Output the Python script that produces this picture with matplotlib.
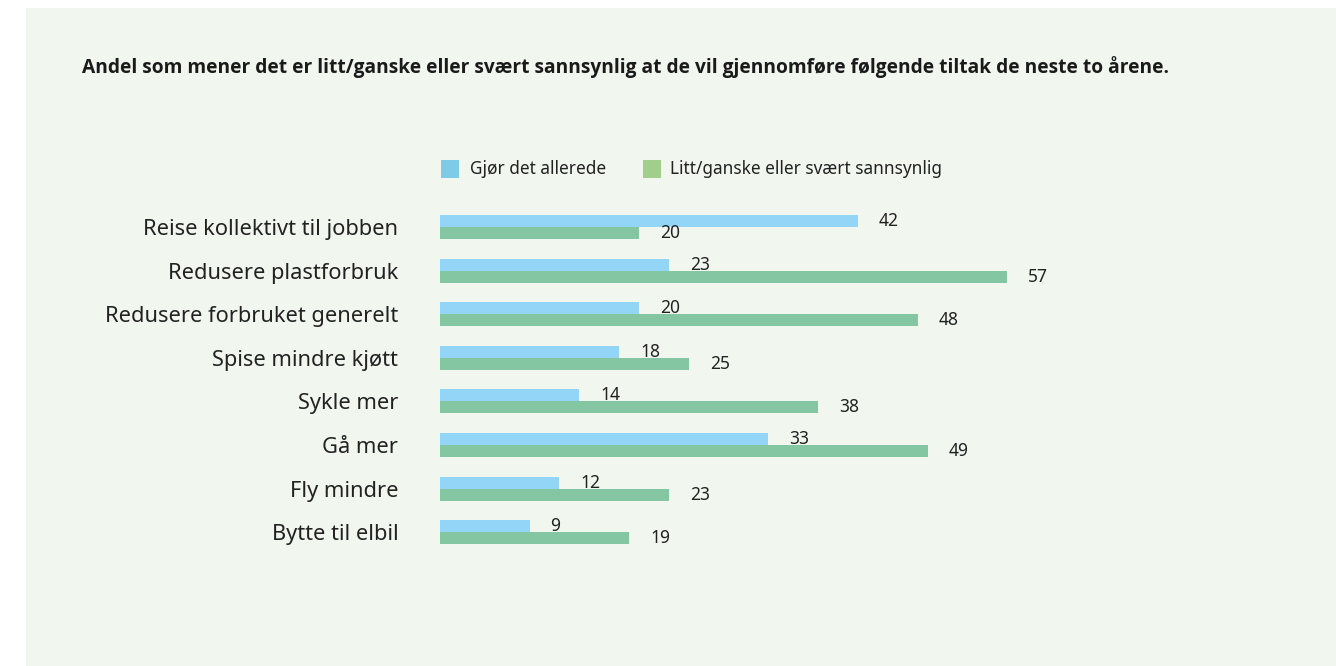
import matplotlib
matplotlib.use("Agg")
import matplotlib.pyplot as plt
from matplotlib.patches import Rectangle
import numpy as np

plt.rcParams['font.family'] = ['Noto Sans', 'DejaVu Sans']

title = "Andel som mener det er litt/ganske eller svært sannsynlig at de vil gjennomføre følgende tiltak de neste to årene."
categories = ["Reise kollektivt til jobben", "Redusere plastforbruk", "Redusere forbruket generelt",
              "Spise mindre kjøtt", "Sykle mer", "Gå mer", "Fly mindre", "Bytte til elbil"]
series_names = ["Gjør det allerede", "Litt/ganske eller svært sannsynlig"]
already = [42, 23, 20, 18, 14, 33, 12, 9]
likely = [20, 57, 48, 25, 38, 49, 23, 19]

W, H = 1336, 666
fig = plt.figure(figsize=(W / 100, H / 100), dpi=100)
fig.patch.set_facecolor('white')

panel = '#f1f6ef'
fig.add_artist(Rectangle((26 / W, 0), (W - 26) / W, (H - 8) / H, transform=fig.transFigure,
                         facecolor=panel, edgecolor='none', zorder=0))

blue_bar = '#93d5f6'
green_bar = '#84c6a1'
blue_leg = '#7dcbe6'
green_leg = '#9fcf8b'

left_px = 440
px_per_unit = 9.95
xmax = 90
ax_w = xmax * px_per_unit
row = 43.6
top_center = 227
ax_top = top_center - row / 2
ax_bot = top_center + 7.5 * row
ax = fig.add_axes([left_px / W, 1 - ax_bot / H, ax_w / W, (ax_bot - ax_top) / H])
ax.set_facecolor('none')
ax.set_xlim(0, xmax)
ax.set_ylim(len(categories) - 0.5, -0.5)

y = np.arange(len(categories))
h = 12 / row
b1 = ax.barh(y - h / 2, already, height=h, color=blue_bar, edgecolor='none')
b2 = ax.barh(y + h / 2, likely, height=h, color=green_bar, edgecolor='none')

for bars, vals in ((b1, already), (b2, likely)):
    for rect, v in zip(bars, vals):
        ax.annotate(str(v), (v, rect.get_y() + rect.get_height() / 2),
                    xytext=(21, 0), textcoords='offset pixels',
                    ha='left', va='center', fontsize=12.5, color='#222222')

ax.set_yticks(y)
ax.set_yticklabels(categories, fontsize=15.7, color='#222222')
ax.tick_params(axis='y', length=0, pad=30)
ax.set_xticks([])
for s in ax.spines.values():
    s.set_visible(False)

fig.text(82 / W, 1 - 67 / H, title, fontsize=13.8, fontweight='bold', color='#1a1a1a',
         ha='left', va='center', family=['Open Sans', 'DejaVu Sans'])

# legend
leg_y = 169
sq = 18
for x0, tx, col, name in ((441, 470, blue_leg, series_names[0]), (643, 670, green_leg, series_names[1])):
    fig.add_artist(Rectangle((x0 / W, 1 - (leg_y + sq / 2) / H), sq / W, sq / H,
                             transform=fig.transFigure, facecolor=col, edgecolor='none'))
    fig.text(tx / W, 1 - leg_y / H, name, fontsize=12.4, color='#222222', ha='left', va='center')

fig.savefig('out.png', dpi=100, facecolor='white')
